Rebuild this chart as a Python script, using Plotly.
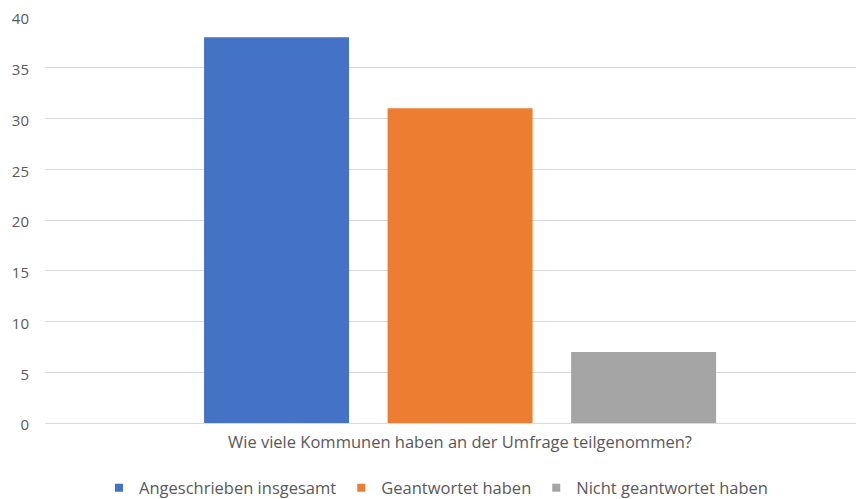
import plotly.graph_objects as go

series = ["Angeschrieben insgesamt", "Geantwortet haben", "Nicht geantwortet haben"]
values = [38, 31, 7]
colors = ["#4472C4", "#ED7D31", "#A5A5A5"]
category = "Wie viele Kommunen haben an der Umfrage teilgenommen?"
positions = [0, 1, 2]

# The page body has an 8px margin, so the figure is drawn 8px smaller
W, H = 856, 491
OFF = 8

fig = go.Figure()
for name, v, c, p in zip(series, values, colors, positions):
    fig.add_trace(go.Bar(x=[p], y=[v], name=name, marker=dict(color=c, line=dict(width=0)),
                         width=0.79, showlegend=False))
# legend entries with small square symbols like the reference
for name, c in zip(series, colors):
    fig.add_trace(go.Scatter(x=[None], y=[None], mode="markers", name=name,
                             marker=dict(symbol="square", size=8, color=c)))

font = "Open Sans, Segoe UI, sans-serif"
fig.update_layout(
    width=W, height=H,
    margin=dict(l=45 - OFF, r=2, t=17 - OFF, b=H - (423 - OFF), autoexpand=False),
    paper_bgcolor="white", plot_bgcolor="white",
    barmode="overlay",
    showlegend=True,
    font=dict(family=font, size=16, color="#595959"),
    xaxis=dict(range=[-1.2616, 3.19], showticklabels=False, showgrid=False,
               zeroline=False, showline=False, fixedrange=True, automargin=False),
    yaxis=dict(range=[0, 40], dtick=5, gridcolor="#D9D9D9", gridwidth=1,
               zeroline=True, zerolinecolor="#D9D9D9", zerolinewidth=1,
               showline=False, ticks="", ticklabelstandoff=15, automargin=False,
               ticklabeloverflow="allow", ticklabelshift=2,
               tickfont=dict(size=15, color="#595959")),
    legend=dict(orientation="h", x=(99 - OFF) / W, xanchor="left", xref="container",
                y=1 - (488 - OFF) / H, yanchor="middle", yref="container",
                font=dict(size=16.5, color="#595959"), itemwidth=30,
                traceorder="normal", bgcolor="rgba(0,0,0,0)"),
    annotations=[dict(text=category, xref="x", yref="paper",
                      x=1, y=-18 / 406,
                      xanchor="center", yanchor="middle", showarrow=False,
                      font=dict(size=16.5, color="#595959"))],
)

fig.write_html("out.html")
